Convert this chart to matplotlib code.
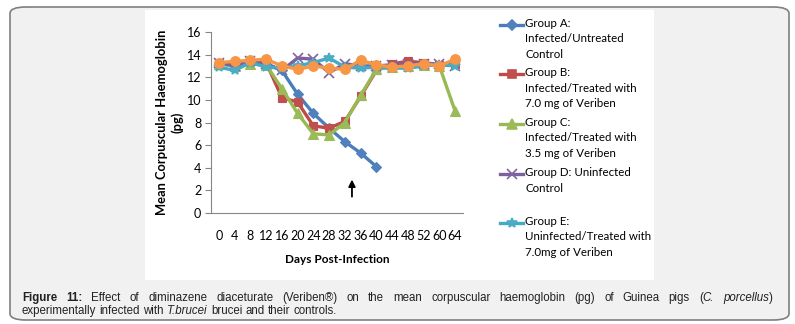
import matplotlib
matplotlib.use("Agg")

import matplotlib.pyplot as plt
from matplotlib.lines import Line2D
from matplotlib.patches import FancyBboxPatch, Rectangle

FONT = ["Lato", "DejaVu Sans"]
CAP_FONT = ["Liberation Sans", "DejaVu Sans"]
plt.rcParams["font.family"] = FONT

# data
days = ["0", "4", "8", "12", "16", "20", "24", "28", "32", "36", "40",
        "44", "48", "52", "60", "64"]
group_a = [13.2, 13.0, 13.4, 13.2, 12.6, 10.5, 8.8, 7.5, 6.3, 5.3, 4.1]
group_b = [13.3, 13.1, 13.4, 13.3, 10.2, 9.8, 7.7, 7.5, 8.1, 10.3, 12.6,
           13.2, 13.4, 13.3, 13.1, 13.2]
group_c = [13.2, 13.0, 13.2, 13.1, 11.0, 8.8, 7.0, 6.9, 8.0, 10.4, 12.7,
           12.9, 13.0, 13.1, 13.0, 9.0]
group_d = [13.3, 13.0, 13.4, 13.2, 12.6, 13.7, 13.6, 12.4, 13.2, 13.0, 13.0,
           13.1, 13.2, 13.2, 13.2, 13.0]
group_e = [12.9, 12.6, 13.3, 12.9, 12.8, 13.0, 13.3, 13.7, 12.9, 12.8, 12.9,
           12.8, 12.8, 13.0, 13.1, 13.0]
group_f = [13.3, 13.4, 13.5, 13.6, 13.0, 12.7, 13.0, 12.8, 12.7, 13.5, 13.1,
           12.9, 13.0, 13.2, 13.0, 13.6]

legend_labels = [
    "Group A:\nInfected/Untreated\nControl",
    "Group B:\nInfected/Treated with\n7.0 mg of Veriben",
    "Group C:\nInfected/Treated with\n3.5 mg of Veriben",
    "Group D: Uninfected\nControl",
    "Group E:\nUninfected/Treated with\n7.0mg of Veriben",
]

# caption pieces: (text, weight, style)
cap_line1 = [("Figure 11:", "bold", "normal"),
             ("Effect of diminazene diaceturate (Veriben®) on the mean corpuscular "
              "haemoglobin (pg) of Guinea pigs (", "normal", "normal"),
             ("C. porcellus", "normal", "italic"),
             (")", "normal", "normal")]
cap_line2 = [("experimentally infected with", "normal", "normal"),
             ("T.brucei", "normal", "italic"),
             ("brucei and their controls.", "normal", "normal")]

series = [
    (group_a, "#4A7EBB", "#4F81BD", "D", 5),
    (group_b, "#BE4B48", "#C0504D", "s", 6),
    (group_c, "#98B954", "#9BBB59", "^", 7),
    (group_d, "#7D60A0", "#8064A2", "x", 7),
    (group_e, "#46AAC5", "#4BACC6", "*", 7),
    (group_f, "#F79646", "#F79646", "o", 7),
]

W, H = 795, 324
fig = plt.figure(figsize=(W / 100, H / 100), dpi=100)
fig.patch.set_facecolor("white")

# outer grey box and white chart panel
fig.patches.append(FancyBboxPatch((10 / W, 1 - 320 / H), 779 / W, 313 / H,
                                  boxstyle="round,pad=0,rounding_size=0.02",
                                  transform=fig.transFigure, facecolor="#f1f1f1",
                                  edgecolor="#7f7f7f", linewidth=1.2, zorder=-2))
fig.patches.append(Rectangle((145 / W, 1 - 280 / H), 509 / W, 270 / H,
                             transform=fig.transFigure, facecolor="white",
                             edgecolor="none", zorder=-1))

ax = fig.add_axes([211 / W, 1 - 213 / H, 252 / W, 181 / H])
ax.set_facecolor("none")
x = list(range(len(days)))
for vals, lc, mc, mk, ms in series:
    ax.plot(x[:len(vals)], vals, color=lc, linewidth=2.4, marker=mk,
            markersize=ms, markerfacecolor=mc, markeredgecolor=mc,
            markeredgewidth=1.2 if mk in "x*" else 0.8)

ax.annotate("", xy=(8.45, 3.2), xytext=(8.45, 1.2),
            arrowprops=dict(arrowstyle="-|>", color="black", lw=1.3,
                            mutation_scale=10))

ax.set_xlim(-0.5, len(days) - 0.5)
ax.set_ylim(0, 16)
ax.set_yticks(range(0, 17, 2))
ax.set_xticks(x)
ax.set_xticklabels(days)
for s in ["top", "right"]:
    ax.spines[s].set_visible(False)
for s in ["left", "bottom"]:
    ax.spines[s].set_color("#868686")
    ax.spines[s].set_linewidth(0.8)
ax.tick_params(axis="y", length=4, color="#868686", labelsize=9, pad=3)
ax.tick_params(axis="x", length=0, labelsize=9, pad=12)
ax.set_xlabel("Days Post-Infection", fontsize=8.5, fontweight="bold", labelpad=9)
ax.set_ylabel("Mean Corpuscular Haemoglobin\n(pg)", fontsize=9.3,
              fontweight="bold", labelpad=2, linespacing=1.3)

# legend drawn by hand
entry_y = [25, 74, 124, 174, 223]
for (vals, lc, mc, mk, ms), lab, yy in zip(series, legend_labels, entry_y):
    yf = 1 - yy / H
    fig.add_artist(Line2D([500 / W, 523 / W], [yf, yf], color=lc, linewidth=2.4))
    fig.add_artist(Line2D([511.5 / W], [yf], color=mc, marker=mk, markersize=ms,
                          markeredgecolor=mc, markeredgewidth=1.2))
    fig.text(525 / W, yf + 7 / H, lab, fontsize=8.3, va="top", ha="left",
             linespacing=1.5)

# caption, first line justified
renderer = fig.canvas.get_renderer()


def _words(pieces):
    out = []
    for txt, wt, st in pieces:
        for w in txt.split(" "):
            if w:
                out.append((w, wt, st))
    return out


def draw_line(pieces, x0, x1, y, size, justify):
    words = _words(pieces)
    arts = []
    for w, wt, st in words:
        t = fig.text(0, y, w, fontsize=size, family=CAP_FONT, fontweight=wt,
                     fontstyle=st, va="center", ha="left", color="#222222")
        arts.append(t)
    widths = [a.get_window_extent(renderer).width for a in arts]
    sp = fig.text(0, 0, "a a", fontsize=size, family=CAP_FONT)
    sp2 = fig.text(0, 0, "aa", fontsize=size, family=CAP_FONT)
    space = sp.get_window_extent(renderer).width - sp2.get_window_extent(renderer).width
    sp.remove()
    sp2.remove()
    # no gap after "(" or before ")"
    gaps = []
    for i in range(len(words) - 1):
        if words[i][0].endswith("(") or words[i + 1][0].startswith(")"):
            gaps.append(0.0)
        else:
            gaps.append(space)
    if justify:
        extra = (x1 - x0) - sum(widths) - sum(gaps)
        n = sum(1 for g in gaps if g > 0)
        gaps = [g + extra / n if g > 0 else g for g in gaps]
    xpos = x0
    for i, a in enumerate(arts):
        a.set_x(xpos / W)
        xpos += widths[i] + (gaps[i] if i < len(gaps) else 0)


draw_line(cap_line1, 22, 773, 1 - 298 / H, 8.3, True)
draw_line(cap_line2, 22, 773, 1 - 311 / H, 8.3, False)

fig.savefig("out.png", dpi=100, facecolor=fig.get_facecolor())
